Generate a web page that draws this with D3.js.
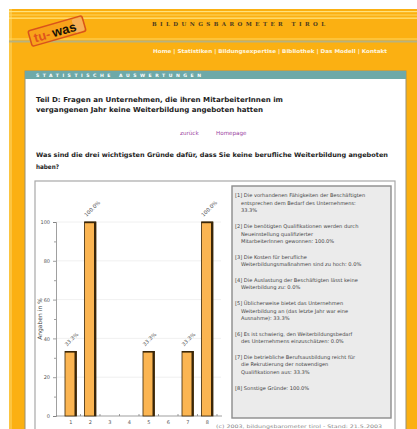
<!DOCTYPE html>
<html>
<head>
<meta charset="utf-8">
<script src="https://cdn.jsdelivr.net/npm/d3@7"></script>
<style>
  body { margin: 0; background: #fff; }
  svg { display: block; font-family: "DejaVu Sans", Verdana, sans-serif; }
</style>
</head>
<body>
<svg id="page" width="417" height="429"></svg>
<script>
// chart data
const categories = ["1", "2", "3", "4", "5", "6", "7", "8"];
const values = [33.3, 100.0, 0.0, 0.0, 33.3, 0.0, 33.3, 100.0];
const valueLabels = ["33.3%", "100.0%", "0.0%", "0.0%", "33.3%", "0.0%", "33.3%", "100.0%"];
const yTicks = [0, 20, 40, 60, 80, 100];
const yMinorTicks = [10, 30, 50, 70, 90];
const yTitle = "Angaben in %";

const legendItems = [
  ["[1] Die vorhandenen Fähigkeiten der Beschäftigten", "entsprechen dem Bedarf des Unternehmens:", "33.3%"],
  ["[2] Die benötigten Qualifikationen werden durch", "Neueinstellung qualifizierter", "MitarbeiterInnen gewonnen: 100.0%"],
  ["[3] Die Kosten für berufliche", "Weiterbildungsmaßnahmen sind zu hoch: 0.0%"],
  ["[4] Die Auslastung der Beschäftigten lässt keine", "Weiterbildung zu: 0.0%"],
  ["[5] Üblicherweise bietet das Unternehmen", "Weiterbildung an (das letzte Jahr war eine", "Ausnahme): 33.3%"],
  ["[6] Es ist schwierig, den Weiterbildungsbedarf", "des Unternehmens einzuschätzen: 0.0%"],
  ["[7] Die betriebliche Berufsausbildung reicht für", "die Rekrutierung der notwendigen", "Qualifikationen aus: 33.3%"],
  ["[8] Sonstige Gründe: 100.0%"]
];

// page texts
const siteTitle = "BILDUNGSBAROMETER TIROL";
const navItems = ["Home", "Statistiken", "Bildungsexpertise", "Bibliothek", "Das Modell", "Kontakt"];
const sectionTitle = "STATISTISCHE AUSWERTUNGEN";
const headLines = [
  "Teil D: Fragen an Unternehmen, die ihren MitarbeiterInnen im",
  "vergangenen Jahr keine Weiterbildung angeboten hatten"
];
const questionLines = [
  "Was sind die drei wichtigsten Gründe dafür, dass Sie keine berufliche Weiterbildung angeboten",
  "haben?"
];
const footer = "(c) 2003, bildungsbarometer tirol - Stand: 21.5.2003";

const svg = d3.select("#page");

// ---------- page frame ----------
svg.append("rect").attr("x", 9).attr("y", 9).attr("width", 408).attr("height", 420).attr("fill", "#fbb012");
svg.append("rect").attr("x", 9).attr("y", 9).attr("width", 3).attr("height", 420).attr("fill", "#fcc540");

// header stripes
[[11, 1.2, "#ffe27c"], [14.5, 1, "#ffd660"], [17.5, 1.3, "#ffe27c"], [38.5, 1, "#ffd660"], [40.5, 2, "#b8b27e"]]
  .forEach(([y, h, c]) => svg.append("rect").attr("x", 9).attr("y", y).attr("width", 408).attr("height", h).attr("fill", c));

// logo
const logo = svg.append("g").attr("transform", "translate(57,31) rotate(-16)");
logo.append("rect").attr("x", -28).attr("y", -8).attr("width", 56).attr("height", 16).attr("rx", 2)
  .attr("fill", "#f8a21a").attr("stroke", "#d9531b").attr("stroke-width", 1.5);
logo.append("rect").attr("x", 17).attr("y", -7).attr("width", 10).attr("height", 14).attr("rx", 2)
  .attr("fill", "#f6b46a").attr("opacity", 0.8);
logo.append("text").attr("x", -24).attr("y", 5).attr("font-size", 13).attr("font-weight", "bold")
  .attr("fill", "#e0541c").attr("font-family", "Liberation Sans, sans-serif").text("tu-");
logo.append("text").attr("x", -5).attr("y", 5).attr("font-size", 13).attr("font-weight", "bold")
  .attr("fill", "#1a1206").attr("font-family", "Liberation Sans, sans-serif").text("was");

svg.append("text").attr("x", 152).attr("y", 25.5).attr("font-size", 5.5).attr("font-weight", "bold")
  .attr("font-family", "DejaVu Serif, serif").attr("fill", "#4a3a20")
  .attr("textLength", 173).attr("lengthAdjust", "spacing").text(siteTitle);

svg.append("text").attr("x", 153).attr("y", 52.5).attr("font-size", 5.3).attr("font-weight", "bold")
  .attr("fill", "#fff7e0").attr("textLength", 234).attr("lengthAdjust", "spacingAndGlyphs")
  .text(navItems.join(" | "));

// content box
svg.append("rect").attr("x", 25).attr("y", 71).attr("width", 381).attr("height", 370)
  .attr("fill", "#fff").attr("stroke", "#9a9070").attr("stroke-width", 1);
svg.append("rect").attr("x", 25).attr("y", 71).attr("width", 381).attr("height", 8).attr("fill", "#6ea9a8");
svg.append("text").attr("x", 36).attr("y", 77).attr("font-size", 4.6).attr("font-weight", "bold")
  .attr("fill", "#fff").attr("textLength", 165).attr("lengthAdjust", "spacing").text(sectionTitle);

svg.selectAll(".head").data(headLines).join("text")
  .attr("x", 36).attr("y", (d, i) => 101.5 + i * 10)
  .attr("font-size", 6.9).attr("font-weight", "bold").attr("fill", "#222")
  .attr("textLength", (d, i) => i === 0 ? 247 : 227).attr("lengthAdjust", "spacingAndGlyphs")
  .text(d => d);

svg.append("text").attr("x", 180).attr("y", 134.5).attr("font-size", 5.6).attr("fill", "#9a3ea0").text("zurück");
svg.append("text").attr("x", 216).attr("y", 134.5).attr("font-size", 5.6).attr("fill", "#9a3ea0").text("Homepage");

svg.selectAll(".quest").data(questionLines).join("text")
  .attr("x", 36).attr("y", (d, i) => 157 + i * 12)
  .attr("font-size", 6.3).attr("font-weight", "bold").attr("fill", "#222")
  .attr("textLength", (d, i) => i === 0 ? 352 : 23).attr("lengthAdjust", "spacingAndGlyphs")
  .text(d => d);

// chart frame
svg.append("rect").attr("x", 35).attr("y", 181).attr("width", 360).attr("height", 260)
  .attr("fill", "#fff").attr("stroke", "#a8a8a8").attr("stroke-width", 1.2);

// ---------- bar chart ----------
const x = d3.scaleBand().domain(categories).range([57, 221]).padding(0.41);
const y = d3.scaleLinear().domain([0, 100]).range([416, 222]);

const plot = svg.append("g");

plot.selectAll(".grid").data(yTicks.slice(1)).join("line")
  .attr("x1", 56).attr("x2", 221).attr("y1", d => y(d)).attr("y2", d => y(d))
  .attr("stroke", "#ececec").attr("stroke-width", 0.8);

const yAxis = plot.append("g").attr("transform", "translate(56,0)")
  .call(d3.axisLeft(y).tickValues(yTicks).tickSize(3).tickPadding(3));
const yMinor = plot.append("g").attr("transform", "translate(56,0)")
  .call(d3.axisLeft(y).tickValues(yMinorTicks).tickSize(2).tickFormat(""));
yMinor.select(".domain").remove();

const xAxis = plot.append("g").attr("transform", "translate(0,416)")
  .call(d3.axisBottom(x).tickSize(0).tickPadding(4));
xAxis.select(".domain").attr("d", "M56,0H222");

[yAxis, yMinor, xAxis].forEach(g => {
  g.selectAll("path,line").attr("stroke", "#777").attr("stroke-width", 0.7);
  g.selectAll("text").attr("font-size", 5).attr("fill", "#555").attr("font-family", "DejaVu Sans, sans-serif");
});

// small separator marks on x axis
const half = (x.step() + x.bandwidth()) / 2;
plot.selectAll(".sep").data(categories).join("line")
  .attr("x1", d => x(d) + half).attr("x2", d => x(d) + half)
  .attr("y1", 416).attr("y2", 414).attr("stroke", "#777").attr("stroke-width", 0.7);

plot.append("text").attr("transform", "translate(42,319) rotate(-90)")
  .attr("text-anchor", "middle").attr("font-size", 6).attr("fill", "#444").text(yTitle);

const bars = plot.selectAll(".bar").data(categories.map((c, i) => ({ c, v: values[i], label: valueLabels[i] })))
  .join("g").attr("class", "bar");

bars.filter(d => d.v > 0).append("rect")
  .attr("x", d => x(d.c)).attr("y", d => y(d.v))
  .attr("width", x.bandwidth()).attr("height", d => y(0) - y(d.v))
  .attr("fill", "#fbb552").attr("stroke", "#3a2608").attr("stroke-width", 0.8);
bars.filter(d => d.v > 0).append("rect")
  .attr("x", d => x(d.c) + x.bandwidth() - 2).attr("y", d => y(d.v))
  .attr("width", 2).attr("height", d => y(0) - y(d.v)).attr("fill", "#3a2608");
bars.filter(d => d.v > 0).append("rect")
  .attr("x", d => x(d.c)).attr("y", d => y(d.v) - 0.4)
  .attr("width", x.bandwidth()).attr("height", 1.6).attr("fill", "#3a2608");

bars.filter(d => d.v > 0).append("text")
  .attr("transform", d => `translate(${x(d.c) + 2},${y(d.v) - 5}) rotate(-45)`)
  .attr("font-size", 5.2).attr("fill", "#555").text(d => d.label);

// ---------- legend ----------
svg.append("rect").attr("x", 232).attr("y", 186).attr("width", 159).attr("height", 232)
  .attr("fill", "#ebebeb").attr("stroke", "#8c8c8c").attr("stroke-width", 1.4);

let row = 0;
legendItems.forEach((lines, p) => {
  lines.forEach((t, j) => {
    svg.append("text")
      .attr("x", j === 0 ? 235 : 241)
      .attr("y", 197 + 7.7 * (row + p))
      .attr("font-size", 5.1).attr("fill", "#444").text(t);
    row++;
  });
});

svg.append("text").attr("x", 216).attr("y", 428).attr("font-size", 4.6).attr("fill", "#888")
  .attr("textLength", 166).attr("lengthAdjust", "spacingAndGlyphs").text(footer);
</script>
</body>
</html>
